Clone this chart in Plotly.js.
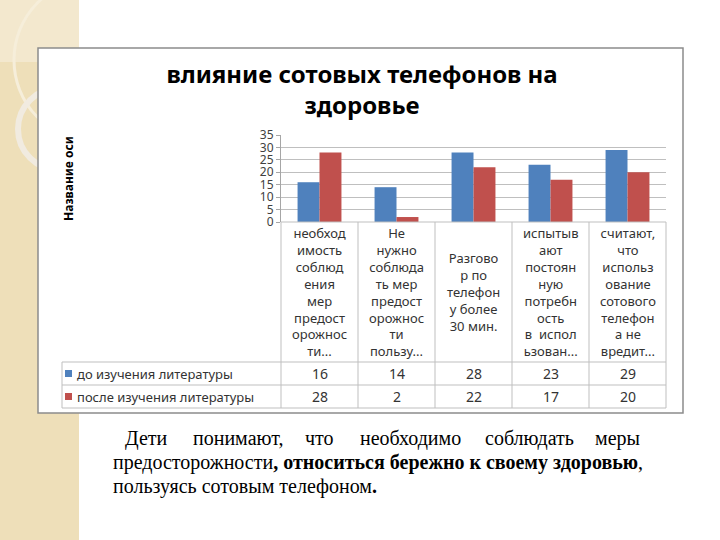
<!DOCTYPE html>
<html><head><meta charset="utf-8">
<script src="https://cdn.plot.ly/plotly-3.0.1.min.js"></script>
<style>html,body{margin:0;padding:0;background:#fff}#chart{width:720px;height:540px}</style>
</head><body><div id="chart"></div>
<script>
const chartTitle = "влияние сотовых телефонов на<br>здоровье";
const yAxisTitle = "Название оси";
const categories = [
  "необход<br>имость<br>соблюд<br>ения<br>мер<br>предост<br>орожнос<br>ти...",
  "Не<br>нужно<br>соблюда<br>ть мер<br>предост<br>орожнос<br>ти<br>пользу...",
  "Разгово<br>р по<br>телефон<br>у более<br>30 мин.",
  "испытыв<br>ают<br>постоян<br>ную<br>потребн<br>ость<br>в  испол<br>ьзован...",
  "считают,<br>что<br>использ<br>ование<br>сотового<br>телефон<br>а не<br>вредит..."
];
const seriesNames = ["до изучения литературы", "после изучения литературы"];
const beforeValues = [16, 14, 28, 23, 29];
const afterValues = [28, 2, 22, 17, 20];
const yTickValues = [0, 5, 10, 15, 20, 25, 30, 35];
const captionLine1 = ["Дети", "понимают,", "что", "необходимо", "соблюдать", "меры"];
const captionLine2 = "предосторожности<b>, относиться бережно к своему здоровью</b>,";
const captionLine3 = "пользуясь сотовым телефоном<b>.</b>";

const W = 720, H = 540;
const X = p => p / W;
const Y = p => 1 - p / H;
const colors = ["#4F81BD", "#C0504D"];
const uiFont = "Noto Sans, Open Sans, sans-serif";
const grid = "#BFBFBF";

const traces = [beforeValues, afterValues].map((vals, k) => ({
  type: "bar",
  name: seriesNames[k],
  x: categories.map((c, i) => i),
  y: vals,
  marker: {color: colors[k]},
  hoverinfo: "y"
}));

const shapes = [];
const annotations = [];
// slide decoration (left stripe)
shapes.push({type: "rect", xref: "paper", yref: "paper", x0: 0, x1: X(79), y0: 0, y1: 1, fillcolor: "#EEDFB9", line: {width: 0}, layer: "below"});
shapes.push({type: "rect", xref: "paper", yref: "paper", x0: 0, x1: X(79), y0: Y(62), y1: 1, fillcolor: "#F3E8CE", line: {width: 0}, layer: "below"});
shapes.push({type: "circle", xref: "paper", yref: "paper", x0: X(14), x1: X(170), y0: Y(140), y1: Y(-20), fillcolor: "rgba(0,0,0,0)", line: {color: "#F6EEDA", width: 3}, layer: "below"});
shapes.push({type: "circle", xref: "paper", yref: "paper", x0: X(18), x1: X(100), y0: Y(170), y1: Y(88), fillcolor: "rgba(0,0,0,0)", line: {color: "#F1EBE0", width: 6}, layer: "below"});
shapes.push({type: "rect", xref: "paper", yref: "paper", x0: X(79), x1: 1, y0: 0, y1: 1, fillcolor: "#FFFFFF", line: {width: 0}, layer: "below"});
// chart box
shapes.push({type: "rect", xref: "paper", yref: "paper", x0: X(38), x1: X(683), y0: Y(413), y1: Y(48), fillcolor: "#FFFFFF", line: {color: "#8C8C8C", width: 1.5}, layer: "below"});

// data table lines
const colEdges = [281, 358, 435, 512, 589, 666];
const hLine = (x0, x1, y) => shapes.push({type: "line", xref: "paper", yref: "paper", x0: X(x0), x1: X(x1), y0: Y(y), y1: Y(y), line: {color: grid, width: 1}});
const vLine = (x, y0, y1) => shapes.push({type: "line", xref: "paper", yref: "paper", x0: X(x), x1: X(x), y0: Y(y0), y1: Y(y1), line: {color: grid, width: 1}});
hLine(281, 666, 222);
hLine(62, 666, 362);
hLine(62, 666, 385);
hLine(62, 666, 408);
colEdges.forEach(x => vLine(x, 222, 408));
vLine(62, 362, 408);

// category labels in table cells
categories.forEach((c, i) => annotations.push({
  xref: "x", yref: "paper", x: i, y: Y(292), text: c, showarrow: false,
  xanchor: "center", yanchor: "middle", align: "center",
  font: {family: uiFont, size: 13, color: "#333333"}
}));
// value rows
const rowCenters = [373.5, 396.5];
[beforeValues, afterValues].forEach((vals, k) => {
  vals.forEach((v, i) => annotations.push({
    xref: "x", yref: "paper", x: i, y: Y(rowCenters[k]), text: String(v), showarrow: false,
    xanchor: "center", yanchor: "middle", font: {family: uiFont, size: 14, color: "#333333"}
  }));
  shapes.push({type: "rect", xref: "paper", yref: "paper", x0: X(65), x1: X(72), y0: Y(rowCenters[k] + 3.5), y1: Y(rowCenters[k] - 3.5), fillcolor: colors[k], line: {width: 0}});
  annotations.push({xref: "paper", yref: "paper", x: X(75), y: Y(rowCenters[k]), text: seriesNames[k], showarrow: false,
    xanchor: "left", yanchor: "middle", font: {family: uiFont, size: 13, color: "#333333"}});
});

// y axis title
annotations.push({xref: "paper", yref: "paper", x: X(68), y: Y(179), text: "<b>" + yAxisTitle + "</b>", textangle: -90, showarrow: false,
  xanchor: "center", yanchor: "middle", font: {family: uiFont, size: 12, color: "#000000"}});

// caption below chart
const serif = "Liberation Serif, Times New Roman, serif";
const capSize = 20;
const line1X = [123, 191, 303, 358, 483, 642];
captionLine1.forEach((w, i) => annotations.push({
  xref: "paper", yref: "paper", x: X(line1X[i]), y: Y(438), text: w, showarrow: false,
  xanchor: i === captionLine1.length - 1 ? "right" : "left", yanchor: "middle", font: {family: serif, size: capSize, color: "#000000"}
}));
annotations.push({xref: "paper", yref: "paper", x: X(111), y: Y(462), text: captionLine2, showarrow: false,
  xanchor: "left", yanchor: "middle", font: {family: serif, size: capSize, color: "#000000"}});
annotations.push({xref: "paper", yref: "paper", x: X(111), y: Y(486), text: captionLine3, showarrow: false,
  xanchor: "left", yanchor: "middle", font: {family: serif, size: capSize, color: "#000000"}});

const layout = {
  width: W, height: H,
  margin: {l: 0, r: 0, t: 0, b: 0, pad: 0},
  paper_bgcolor: "#FFFFFF",
  plot_bgcolor: "rgba(0,0,0,0)",
  showlegend: false,
  barmode: "group",
  bargap: 0.43,
  bargroupgap: 0,
  title: {text: "<b>" + chartTitle + "</b>", x: X(362), xanchor: "center", y: Y(83), yanchor: "middle",
    font: {family: uiFont, size: 24, color: "#000000"}},
  xaxis: {domain: [X(281), X(666)], type: "linear", range: [-0.5, 4.5], showticklabels: false, showgrid: false,
    zeroline: false, showline: false, ticks: "", fixedrange: true},
  yaxis: {domain: [Y(222), Y(135)], range: [0, 35], tickvals: yTickValues, showgrid: true, gridcolor: grid, gridwidth: 1,
    zeroline: false, showline: true, linecolor: "#A6A6A6", linewidth: 1, ticks: "outside", ticklen: 4, tickcolor: "#A6A6A6",
    tickfont: {family: uiFont, size: 12, color: "#404040"}, fixedrange: true},
  shapes: shapes,
  annotations: annotations
};
Plotly.newPlot("chart", traces, layout, {displayModeBar: false, staticPlot: true});
</script></body></html>
